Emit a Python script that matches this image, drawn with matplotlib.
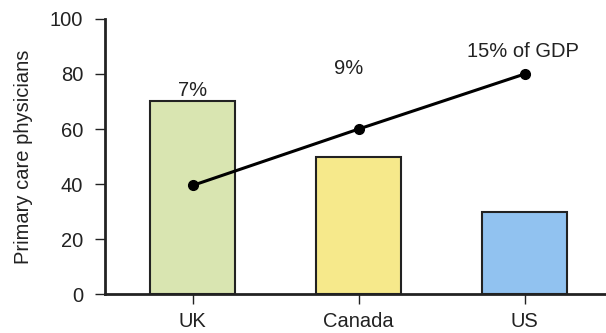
import matplotlib
matplotlib.use("Agg")
import matplotlib.pyplot as plt

countries = ["UK", "Canada", "US"]
physicians = [70, 50, 30]
spending_line = [39.5, 60, 80]
spending_labels = ["7%", "9%", "15% of GDP"]
bar_colors = ["#d9e5b1", "#f6e98b", "#91c2f0"]

plt.rcParams['font.family'] = ['Liberation Sans', 'DejaVu Sans']

fig = plt.figure(figsize=(6.06, 3.33), dpi=100)
ax = fig.add_axes([0.173, 0.117, 0.827, 0.826])

x = list(range(len(countries)))
ax.bar(x, physicians, width=0.51, color=bar_colors, edgecolor="#222222", linewidth=1.5, zorder=2)
ax.plot(x, spending_line, color="black", linewidth=2.2, marker="o", markersize=7, zorder=3)

label_pos = [(0, 72), (0.94, 80), (1.99, 86)]
for (lx, ly), t in zip(label_pos, spending_labels):
    ax.text(lx, ly, t, ha="center", va="baseline", fontsize=14.5, color="#222222")

ax.set_xlim(-0.53, 2.49)
ax.set_ylim(0, 100)
ax.set_yticks([0, 20, 40, 60, 80, 100])
ax.set_xticks(x)
ax.set_xticklabels(countries)
ax.set_ylabel("Primary care physicians", fontsize=14.5, color="#222222", labelpad=12)
ax.tick_params(axis="both", labelsize=14.5, colors="#222222", width=1, length=7.5)
ax.tick_params(axis="y", pad=8)
ax.tick_params(axis="x", pad=5.5)
for s in ["top", "right"]:
    ax.spines[s].set_visible(False)
for s in ["left", "bottom"]:
    ax.spines[s].set_linewidth(2)
    ax.spines[s].set_color("#222222")

fig.savefig("out.png", dpi=100)
